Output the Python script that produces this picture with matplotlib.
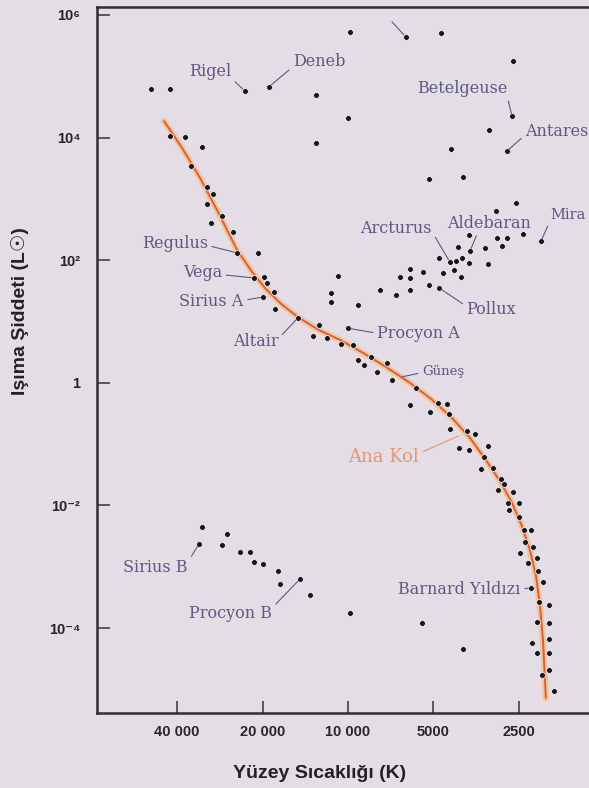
import matplotlib

matplotlib.use("Agg")

import matplotlib.pyplot as plt
import numpy as np
from matplotlib.ticker import NullLocator

# Hertzsprung-Russell diagram, values as log10(T) and log10(L/Lsun)

supergiant_logT = [4.694, 4.627, 4.363, 4.278, 3.993, 3.796, 3.672, 3.419, 4.113,
                   4.000, 3.422, 3.503, 4.113, 3.440, 3.637, 3.715, 3.595]
supergiant_logL = [4.79, 4.79, 4.76, 4.83, 5.72, 5.64, 5.71, 5.25, 4.70,
                   4.32, 4.35, 4.12, 3.91, 3.78, 3.81, 3.32, 3.36]

giant_logT = [3.408, 3.479, 3.574, 3.475, 3.440, 3.384, 3.320, 3.458, 3.518, 3.570,
              3.613, 3.680, 3.599, 3.641, 3.620, 3.574, 3.507, 3.665, 3.627, 3.602,
              3.782, 3.736, 3.817, 3.782, 4.035, 3.715, 3.680, 3.887, 3.782, 3.831,
              4.060, 4.060, 3.965]
giant_logL = [2.93, 2.80, 2.41, 2.36, 2.36, 2.43, 2.31, 2.23, 2.20, 2.15,
              2.22, 2.04, 2.04, 1.97, 1.99, 1.95, 1.94, 1.79, 1.84, 1.73,
              1.86, 1.81, 1.73, 1.71, 1.74, 1.60, 1.55, 1.51, 1.51, 1.43,
              1.46, 1.32, 1.27]

ms_logT = [4.627, 4.574, 4.514, 4.553, 4.496, 4.475, 4.496, 4.444, 4.482, 4.405,
           4.391, 4.317, 4.331, 4.296, 4.285, 4.260, 4.299, 4.257, 4.176, 4.102,
           4.123, 4.074, 4.025, 3.982, 4.000, 3.965, 3.919, 3.944, 3.863, 3.898,
           3.845, 3.761, 3.782, 3.683, 3.651, 3.711, 3.644, 3.641, 3.581, 3.553,
           3.609, 3.574, 3.507, 3.521, 3.532, 3.489, 3.461, 3.451, 3.472, 3.419,
           3.437, 3.398, 3.433, 3.398, 3.380, 3.356, 3.377, 3.349, 3.394, 3.334,
           3.366, 3.331, 3.313, 3.356, 3.327, 3.292, 3.334, 3.292, 3.292, 3.352,
           3.334, 3.292, 3.292, 3.317, 3.275]
ms_logL = [4.03, 4.01, 3.85, 3.54, 3.19, 3.08, 2.92, 2.72, 2.61, 2.46,
           2.12, 2.12, 1.71, 1.73, 1.63, 1.48, 1.40, 1.20, 1.06, 0.94,
           0.76, 0.73, 0.63, 0.62, 0.89, 0.37, 0.42, 0.29, 0.32, 0.18,
           0.05, -0.08, -0.36, -0.33, -0.35, -0.48, -0.51, -0.75, -0.79, -0.84,
           -1.06, -1.10, -1.03, -1.21, -1.41, -1.39, -1.57, -1.65, -1.75, -1.78,
           -1.96, -1.96, -2.08, -2.19, -2.40, -2.40, -2.60, -2.68, -2.78, -2.86,
           -2.94, -3.07, -3.25, -3.34, -3.58, -3.62, -3.90, -3.92, -4.18, -4.24,
           -4.41, -4.41, -4.69, -4.77, -5.03]

dwarf_logT = [4.514, 4.525, 4.426, 4.444, 4.380, 4.345, 4.331, 4.299, 4.246, 4.239,
              4.169, 4.134, 3.993, 3.739, 3.595]
dwarf_logL = [-2.35, -2.63, -2.47, -2.65, -2.76, -2.76, -2.92, -2.96, -3.07, -3.28,
              -3.20, -3.46, -3.76, -3.92, -4.35]

# main sequence ("Ana Kol") curve
curve_logT = [4.648, 4.584, 4.521, 4.458, 4.391, 4.338, 4.289, 4.236, 4.176, 4.102,
              4.028, 3.951, 3.870, 3.785, 3.708, 3.634, 3.570, 3.514, 3.465, 3.422,
              3.387, 3.359, 3.338, 3.324, 3.313, 3.303]
curve_logL = [4.27, 3.83, 3.34, 2.79, 2.17, 1.81, 1.53, 1.29, 1.07, 0.86,
              0.70, 0.50, 0.27, 0.01, -0.26, -0.57, -0.90, -1.26, -1.60, -1.96,
              -2.34, -2.73, -3.14, -3.62, -4.20, -5.14]

x_tick_values = [40000, 20000, 10000, 5000, 2500]
x_tick_labels = ["40 000", "20 000", "10 000", "5000", "2500"]
y_tick_values = [1e6, 1e4, 1e2, 1, 1e-2, 1e-4]
y_tick_labels = ["10⁶", "10⁴", "10²", "1", "10⁻²", "10⁻⁴"]

# name, (logT, logL) of target, text offset in points, ha, relpos of leader line
labels = [
    ("Rigel", (4.363, 4.76), (-25, 14), "center", (1.0, 0.1)),
    ("Deneb", (4.278, 4.83), (36, 18), "center", (0.0, 0.2)),
    ("Betelgeuse", (3.422, 4.35), (-36, 20), "center", (1.0, 0.0)),
    ("Antares", (3.440, 3.78), (13, 14), "left", (0.0, 0.3)),
    ("Regulus", (4.391, 2.12), (-21, 6.5), "right", (1.0, 0.4)),
    ("Vega", (4.331, 1.71), (-23, 3.6), "right", (1.0, 0.4)),
    ("Sirius A", (4.299, 1.40), (-14, -3.6), "right", (1.0, 0.6)),
    ("Altair", (4.176, 1.06), (-14, -17.3), "right", (1.0, 0.7)),
    ("Arcturus", (3.641, 1.97), (-13, 24.5), "right", (1.0, 0.3)),
    ("Aldebaran", (3.570, 2.15), (-16.6, 20), "left", (0.37, 0.0)),
    ("Pollux", (3.680, 1.55), (20, -15.8), "left", (0.0, 0.7)),
    ("Procyon A", (4.000, 0.89), (20.9, -3.6), "left", (0.0, 0.5)),
    ("Barnard Yıldızı", (3.356, -3.34), (-7.2, -1.4), "right", (1.0, 0.5)),
    ("Sirius B", (4.525, -2.63), (-8, -16.6), "right", (1.0, 0.8)),
    ("Procyon B", (4.169, -3.20), (-20, -24.5), "right", (1.0, 0.8)),
]
mira_target = (3.320, 2.31)
sun_target = (3.817, 0.09)
main_seq_target = (3.602, -0.85)
top_pointer_target = (3.796, 5.64)

BG = "#e4dde6"
DOT = "#161616"
LABEL = "#5a5a84"
SANS = ["Liberation Sans", "DejaVu Sans"]
SERIF = ["DejaVu Serif"]


def scatter_stars(ax, logT, logL):
    ax.scatter(10 ** np.asarray(logT), 10 ** np.asarray(logL), s=18, c=DOT,
               edgecolors="#f3eef3", linewidths=0.6, zorder=4)


def label_star(ax, text, target, offset, ha, relpos, color=LABEL, size=11.5):
    ax.annotate(
        text,
        xy=(10 ** target[0], 10 ** target[1]),
        xytext=offset,
        textcoords="offset points",
        ha=ha,
        va="center",
        fontsize=size,
        family=SERIF,
        color=color,
        annotation_clip=False,
        arrowprops=dict(arrowstyle="-", color=color, lw=0.8,
                        relpos=relpos, shrinkA=1, shrinkB=2),
        zorder=5,
    )


fig = plt.figure(figsize=(5.89, 7.88), dpi=100)
fig.patch.set_facecolor(BG)
ax = fig.add_axes([97 / 589, 75 / 788, 492 / 589, 706 / 788])
ax.set_facecolor(BG)
ax.set_xscale("log")
ax.set_yscale("log")
ax.set_xlim(10 ** 4.884, 10 ** 3.151)
ax.set_ylim(10 ** -5.386, 10 ** 6.130)

# main sequence band: pale glow under a thin red-orange line
curve_T = 10 ** np.asarray(curve_logT)
curve_L = 10 ** np.asarray(curve_logL)
ax.plot(curve_T, curve_L, color="#f2c69c", lw=4.5, solid_capstyle="round",
        solid_joinstyle="round", zorder=2)
ax.plot(curve_T, curve_L, color="#d8603c", lw=1.4, solid_capstyle="round",
        solid_joinstyle="round", zorder=3)

scatter_stars(ax, supergiant_logT, supergiant_logL)
scatter_stars(ax, giant_logT, giant_logL)
scatter_stars(ax, ms_logT, ms_logL)
scatter_stars(ax, dwarf_logT, dwarf_logL)

for text, target, offset, ha, relpos in labels:
    label_star(ax, text, target, offset, ha, relpos)

# Mira sits at the right edge, keep it a touch smaller so it stays inside
label_star(ax, "Mira", mira_target, (6.5, 18.7), "left", (0.0, 0.1), size=10.5)
label_star(ax, "Güneş", sun_target, (15.8, 4.3), "left", (0.0, 0.4), size=9.5)
label_star(ax, "Ana Kol", main_seq_target, (-30, -15.8), "right", (1.0, 0.7),
           color="#e39870", size=13)
ax.annotate("", xy=(10 ** top_pointer_target[0], 10 ** top_pointer_target[1]),
            xytext=(-10, 11), textcoords="offset points", annotation_clip=False,
            arrowprops=dict(arrowstyle="-", color=LABEL, lw=0.8, shrinkA=0, shrinkB=2))

ax.set_xticks(x_tick_values)
ax.set_xticklabels(x_tick_labels)
ax.set_yticks(y_tick_values)
ax.set_yticklabels(y_tick_labels)
ax.xaxis.set_minor_locator(NullLocator())
ax.yaxis.set_minor_locator(NullLocator())
ax.tick_params(axis="x", direction="in", length=8.5, width=1.1, color="#333333", pad=9)
ax.tick_params(axis="y", direction="in", length=9, width=1.1, color="#333333", pad=12)
for tick_label in ax.get_xticklabels() + ax.get_yticklabels():
    tick_label.set_family(SANS)
    tick_label.set_fontweight("bold")
    tick_label.set_fontsize(10.5)
    tick_label.set_color("#262626")

for side in ["left", "top", "bottom"]:
    ax.spines[side].set_color("#2e2e2e")
    ax.spines[side].set_linewidth(1.8)
ax.spines["right"].set_visible(False)

fig.text(20 / 589, 1 - 311 / 788, "Işıma Şiddeti (L☉)", rotation=90, ha="center",
         va="center", family=SANS, fontweight="bold", fontsize=14, color="#222222")
fig.text(320 / 589, 1 - 774 / 788, "Yüzey Sıcaklığı (K)", ha="center", va="center",
         family=SANS, fontweight="bold", fontsize=14, color="#222222")

fig.savefig("out.png", dpi=100, facecolor=BG)
